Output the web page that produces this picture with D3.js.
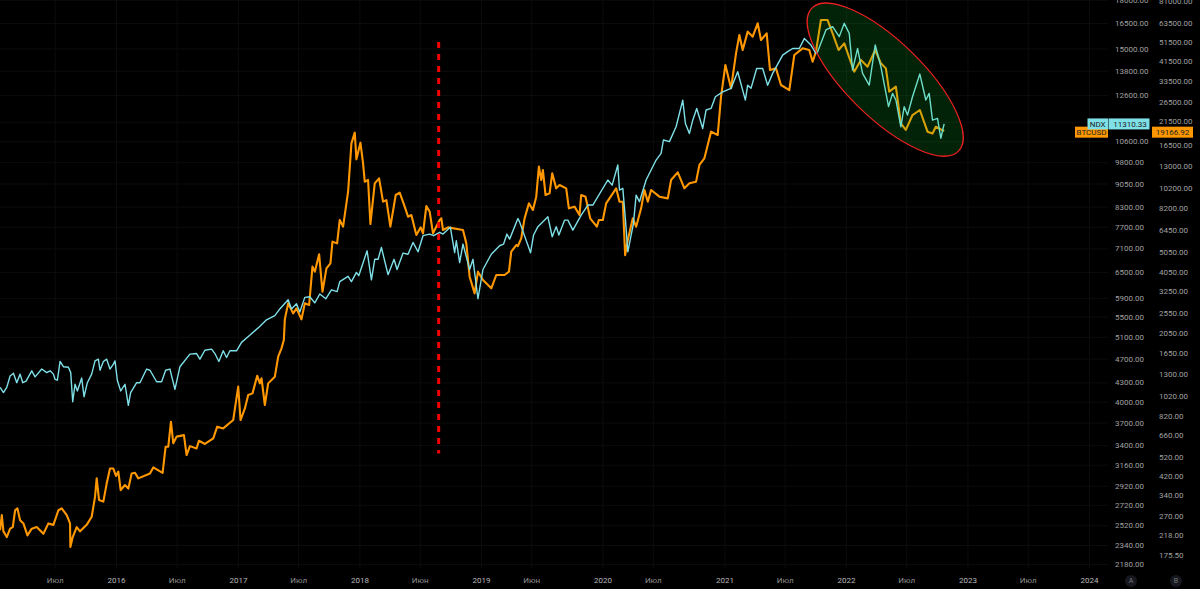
<!DOCTYPE html>
<html><head><meta charset="utf-8">
<script src="https://cdn.jsdelivr.net/npm/d3@7"></script>
<style>html,body{margin:0;padding:0;background:#000;overflow:hidden}svg{display:block}text{font-family:Roboto,"Liberation Sans",sans-serif}</style>
</head><body><svg id="c" width="1200" height="589"></svg>
<script>
// days since 2016-01-01
const ndxDays=[-348,-338,-328,-318,-308,-298,-288,-280,-270,-253,-243,-223,-208,-198,-188,-183,-176,-168,-158,-143,-136,-130,-123,-116,-103,-96,-86,-73,-63,-53,-48,-38,-28,-18,-8,-3,4,14,27,37,44,62,72,92,102,122,137,149,162,177,192,222,242,252,267,287,297,309,322,332,342,362,377,400,430,
452,477,492,517,527,542,552,567,582,597,612,630,647,664,672,697,707,722,729,754,767,777,787,797,817,835,844,862,877,892,907,922,942,954,972,982,1004,1017,1022,1032,1042,1062,1072,1087,1102,1127,1152,1164,1174,1182,1207,
1212,1245,1254,1267,1297,1310,1322,1330,1347,1357,1372,1397,1417,1432,1477,1490,1507,1512,1522,1530,1537,1554,1562,1572,1592,1607,1622,1637,1644,1662,
1682,1702,1710,1722,1732,1744,1762,1772,1787,1800,1822,1847,1867,1890,1897,1907,1924,1942,1957,1972,2002,2017,2032,2052,2067,2087,2102,
2107,2132,2152,2172,2187,2202,2212,2227,2242,2262,2280,2297,2320,2332,2342,2357,2367,2377,2392,2414,2432,2442,2452,2467,2477,2487];
const ndxValues=[4220,4140,4220,4405,4450,4295,4435,4295,4320,4490,4390,4520,4460,4490,4435,4350,4335,4650,4560,4550,4460,4000,4270,4165,4370,4075,4295,4435,4660,4690,4500,4650,4690,4520,4605,4660,4335,4165,4270,3945,4140,4295,4295,4520,4500,4310,4310,4500,4520,4190,4560,4780,4790,4690,4850,4870,4790,4650,4840,4720,4840,4840,4995,5120,5290,
5435,5520,5660,5860,5660,5770,5595,5910,5925,5790,5985,5880,6080,6040,6270,6395,6270,6490,6410,7035,6310,6815,6815,7125,6435,6815,6560,6975,6945,7260,7010,7445,7490,7445,7540,7490,7685,6990,7305,6730,7215,6560,6815,5880,6560,6945,7170,7215,7490,7350,7940,
7840,6985,7465,7700,7990,7415,7700,7465,7890,7890,7600,8040,8350,8350,9170,8995,9700,8830,8885,7890,7010,7795,8665,8455,9170,9520,9880,10130,10650,10585,
11190,12365,11330,10915,11470,11985,11120,11915,11985,12520,12750,12920,13750,12365,13075,12920,13920,13920,13075,13665,14630,14820,15000,15000,15565,15190,14725,
14820,16075,16275,15680,16480,15875,13835,15000,13670,13080,15195,14015,12065,12680,12370,11190,12065,11690,12520,13630,12370,12680,11475,11545,10720,11310.33];
const btcDays=[-348,-343,-338,-328,-318,-310,-303,-296,-288,-278,-266,-253,-238,-218,-203,-188,-173,-163,-148,-138,-137,-130,-118,-108,-88,-73,-63,-58,-51,-38,-28,-18,-8,0,7,14,27,37,47,57,67,102,112,140,149,157,165,172,182,204,212,222,242,249,267,292,304,322,352,367,374,387,397,410,424,432,437,447,457,477,487,497,504,
507,517,532,542,557,567,580,590,597,610,620,632,644,650,664,672,682,697,707,717,722,734,742,747,757,764,777,790,802,812,824,840,852,867,877,887,902,915,922,932,942,952,972,977,982,997,1042,1052,1062,1077,1087,1102,1127,1142,1167,1180,1187,1202,
1207,1217,1227,1240,1252,1262,1270,1277,1282,1290,1302,1310,1322,1332,1352,1360,1377,1392,1397,1410,1424,1444,1450,1462,1472,1502,1512,1522,1529,1537,1552,1562,1577,1587,1597,1607,1632,1657,1667,1687,1707,1722,1742,1752,1767,1777,
1787,1807,1817,1830,1847,1862,1872,1882,1897,1912,1927,1937,1954,1964,1982,1997,2022,2037,2062,2082,2092,2102,2117,2137,2152,2170,
2187,2217,2237,2257,2280,2297,2312,2322,2342,2357,2372,2392,2414,2437,2452,2462,2487];
const btcValues=[231,273,228,214,235,239,288,294,258,249,218,235,239,222,249,245,288,294,273,249,192,214,239,228,245,268,334,410,323,317,387,457,457,421,442,360,381,366,433,436,410,433,463,436,582,582,768,605,651,662,531,586,571,622,600,639,727,713,782,1132,782,890,1032,1051,1278,1174,1241,924,1174,1264,1577,1730,1897,
2386,2848,2549,2694,2386,2848,2796,4275,4044,4900,3240,4197,4436,5639,5533,7168,6659,9804,16745,18849,14033,16875,13426,10953,11170,6854,10758,11365,8785,8936,6659,9452,9695,8307,7435,7570,6069,6607,6184,8372,7860,6184,7168,7301,6416,6607,6416,5533,3826,3182,4044,3687,3362,3898,3898,4044,5048,5433,
5372,5850,7300,8620,8005,9280,12940,11160,12470,9450,9625,12015,10175,10560,10175,8155,8310,7575,9450,9280,7300,6655,7165,7165,8620,10175,8775,8775,4860,5745,7300,6655,8155,9990,8775,9990,9280,9105,11160,12150,10175,10755,10960,13180,14185,16440,
19065,18370,28085,39890,30800,45390,55585,47080,57710,54590,63280,52580,56610,37760,38425,31960,30210,44555,47960,47080,41360,46235,65630,65630,56610,47080,
50705,37000,42190,39155,47085,40630,38420,29690,31375,20900,19430,22920,24230,19060,18680,20135,19166.92];
const axisATicks=[18000,16500,15000,13800,12600,11400,10600,9800,9050,8300,7700,7100,6500,5900,5500,5100,4700,4300,4000,3700,3400,3160,2920,2720,2520,2340,2180];
const axisBTicks=[81000,63500,51500,41500,33500,26500,21500,16500,13000,10200,8200,6450,5050,4050,3250,2550,2050,1650,1300,1020,820,660,520,420,340,270,218,175.5];
const timeTickDays=[-184,0,182,366,547,731,912,1096,1247,1461,1612,1827,2008,2192,2373,2557,2738,2922];
const timeTickLabels=["Июл","2016","Июл","2017","Июл","2018","Июн","2019","Июн","2020","Июл","2021","Июл","2022","Июл","2023","Июл","2024"];
const markerDay=969, markerTop=15366, markerBottom=3296;
const zoneDay=2310, zoneValue=13350;

const day=d=>new Date(Date.UTC(2016,0,1+d));
const svg=d3.select("#c");
const x=d3.scaleUtc().domain([day(0),day(2922)]).range([116,1089]);
const yA=d3.scaleLog().domain([2340,16500]).range([545,23]);
const yB=d3.scaleLog().domain([175.5,63500]).range([555,23]);

svg.append("rect").attr("width",1200).attr("height",589).attr("fill","#000");

// grid + time axis
const gx=svg.append("g").attr("transform","translate(0,569)")
 .call(d3.axisBottom(x).tickValues(timeTickDays.map(day)).tickSize(-569).tickPadding(8)
 .tickFormat((d,i)=>timeTickLabels[i]));
gx.select(".domain").remove();
gx.selectAll("line").attr("stroke","#0c0c0e");
gx.selectAll("text").attr("font-size",8)
 .attr("fill",(d,i)=>/\d/.test(timeTickLabels[i])?"#b8b8b8":"#8f8f8f");

const ga=svg.append("g").attr("transform","translate(1108,0)")
 .call(d3.axisRight(yA).tickValues(axisATicks).tickSize(-1108).tickPadding(7).tickFormat(d3.format(".2f")));
ga.select(".domain").remove();
ga.selectAll("line").attr("stroke","#0c0c0e");
ga.selectAll("text").attr("font-size",8).attr("fill","#a0a0a0");

const gb=svg.append("g").attr("transform","translate(1159,0)")
 .call(d3.axisRight(yB).tickValues(axisBTicks).tickSize(0).tickPadding(0).tickFormat(d3.format(".2f")));
gb.select(".domain").remove();
gb.selectAll("text").attr("font-size",8).attr("fill","#a0a0a0");

// series
const line=(ys)=>d3.line().x(d=>x(day(d[0]))).y(d=>ys(d[1]));
svg.append("path").datum(d3.zip(btcDays,btcValues)).attr("d",line(yB))
 .attr("fill","none").attr("stroke","#ff9800").attr("stroke-width",2.1).attr("stroke-linejoin","round");
svg.append("path").datum(d3.zip(ndxDays,ndxValues)).attr("d",line(yA))
 .attr("fill","none").attr("stroke","#7fe0e8").attr("stroke-width",1.4).attr("stroke-linejoin","round");

// annotations
const mx=x(day(markerDay));
svg.append("line").attr("x1",mx).attr("x2",mx).attr("y1",yA(markerTop)).attr("y2",yA(markerBottom))
 .attr("stroke","#f20000").attr("stroke-width",3).attr("stroke-dasharray","6 6");
const ex=x(day(zoneDay)), ey=yA(zoneValue);
svg.append("ellipse").attr("cx",ex).attr("cy",ey).attr("rx",102.4).attr("ry",38.1)
 .attr("transform",`rotate(44.3 ${ex} ${ey})`)
 .attr("fill","rgb(20,210,50)").attr("fill-opacity",0.17)
 .attr("stroke","#f02020").attr("stroke-opacity",1).attr("stroke-width",1.2);

// last value tags
function tag(x0,w,yc,fill,label,anchorX){
 svg.append("rect").attr("x",x0).attr("y",yc-5.5).attr("width",w).attr("height",11).attr("fill",fill);
 svg.append("text").attr("x",anchorX).attr("y",yc).attr("dy","0.35em").attr("text-anchor","middle")
  .attr("font-size",8).attr("fill","#222").text(label);
}
const lastA=ndxValues[ndxValues.length-1], lastB=btcValues[btcValues.length-1];
const ya=yA(lastA), yb=yB(lastB)+1;
tag(1075,33,yb,"#ff9800","BTCUSD",1091.5);
tag(1087.5,20.5,ya,"#7fe0e8","NDX",1097.7);
tag(1108.5,41,ya,"#7fe0e8",d3.format(".2f")(lastA),1130);
tag(1152,41,yb,"#ff9800",d3.format(".2f")(lastB),1172.5);

// scale badges
[["A",1131],["B",1176]].forEach(([t,cx])=>{
 svg.append("circle").attr("cx",cx).attr("cy",581).attr("r",6).attr("fill","#17181f");
 svg.append("text").attr("x",cx).attr("y",581).attr("dy","0.35em").attr("text-anchor","middle")
  .attr("font-size",7).attr("fill","#777").text(t);
});
</script></body></html>
